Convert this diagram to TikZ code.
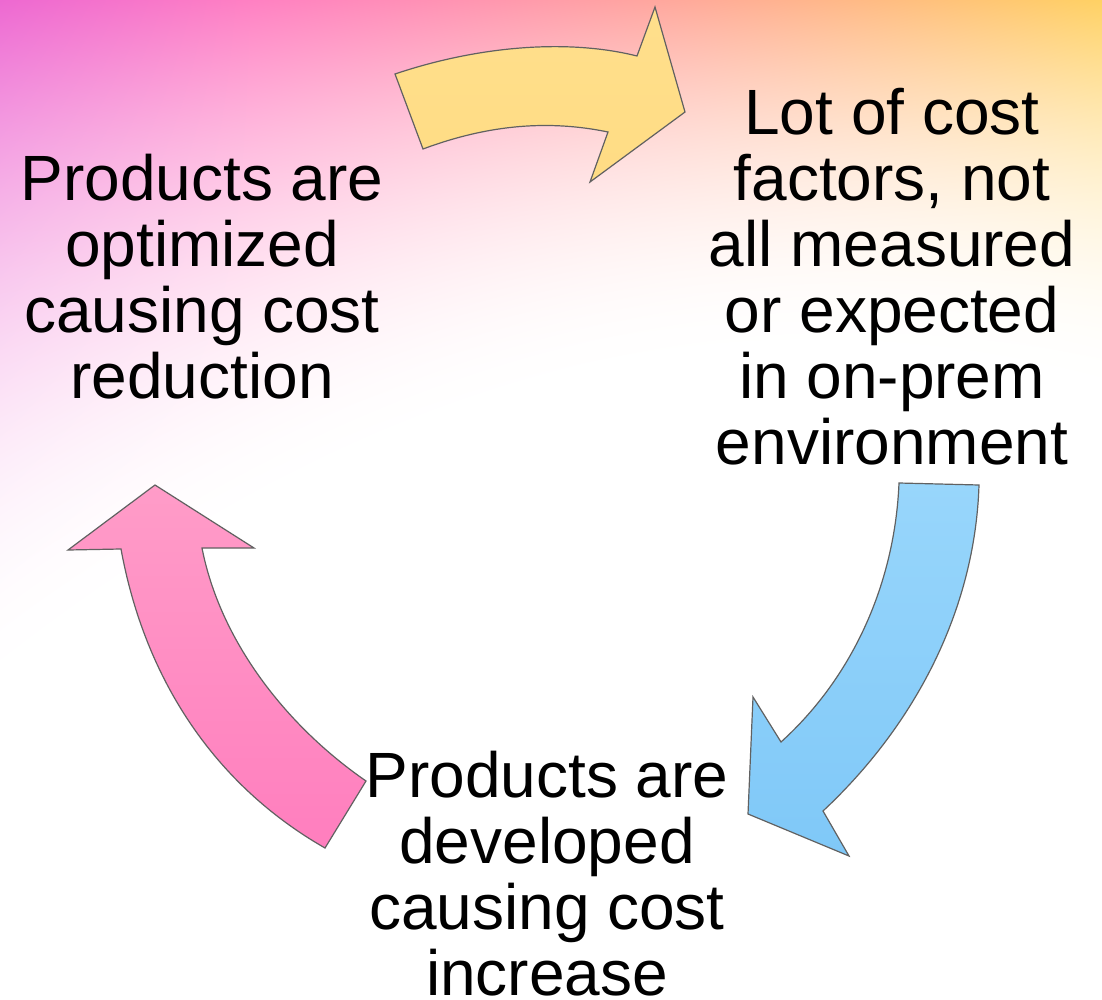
\documentclass[tikz,border=0pt]{standalone}
\usepackage{fontspec}
\setmainfont{Liberation Sans}
\definecolor{yellowA}{HTML}{FFDF8C}
\definecolor{yellowB}{HTML}{FFDC84}
\definecolor{blueA}{HTML}{98D6FB}
\definecolor{blueB}{HTML}{7FC8F8}
\definecolor{pinkA}{HTML}{FF9CC8}
\definecolor{pinkB}{HTML}{FF7EBE}
\pgfdeclarefunctionalshading{skyglow}{\pgfpoint{0bp}{0bp}}{\pgfpoint{100bp}{100bp}}{}{
  75 exch sub 50 div exch 25 sub 50 div
  dup dup mul 0.6 mul 1 index 0.9 mul sub 0.7 add
  2 index exch div 1 exch sub dup 0 lt {pop 0} if dup mul
  3 -1 roll pop
  1 index 0.3 mul 0.07 exch sub dup 0 lt {pop 0} if 1 index mul 1 exch sub
  2 index 0.41 mul 0.59 exch sub 2 index mul 1 exch sub
  3 index dup dup mul 0.23 mul exch 0.2 mul add 0.18 add 3 index mul 1 exch sub
  5 -2 roll pop pop
}
\tikzset{
  bend arrow/.style={draw=black!62, line width=1.2pt, line join=miter},
  cycle text/.style={align=center, font=\fontsize{64}{66}\selectfont, text=black, inner sep=0pt, anchor=base},
}
\begin{document}
\begin{tikzpicture}[x=1pt,y=-1pt]
\useasboundingbox (0,0) rectangle (1102,1000);
\path[shading=skyglow] (0,0) rectangle (1102,1000);
% yellow arrow
\path[bend arrow, top color=yellowA, bottom color=yellowB]
  (395,74) .. controls (475,47) and (565,38) .. (637,56)
  -- (655,7) -- (685,112) -- (590,182) -- (608,132)
  .. controls (550,120) and (490,124) .. (423,149) -- cycle;
% blue arrow
\path[bend arrow, top color=blueA, bottom color=blueB]
  (899,483) -- (979,485)
  .. controls (975,610) and (915,725) .. (823,811)
  -- (849,856) -- (748,814) -- (753,697) -- (781,742)
  .. controls (855,675) and (895,580) .. (899,483) -- cycle;
% pink arrow
\path[bend arrow, top color=pinkA, bottom color=pinkB]
  (155,485) -- (254,548) -- (202,548)
  .. controls (220,640) and (285,725) .. (366,781)
  -- (325,848)
  .. controls (215,785) and (145,680) .. (121,549)
  -- (68,550) -- cycle;
% labels
\node[cycle text] (optimized) at (202,398) {Products are\\optimized\\causing cost\\reduction};
\node[cycle text] (factors) at (892,464) {Lot of cost\\factors, not\\all measured\\or expected\\in on-prem\\environment};
\node[cycle text] (developed) at (547,995) {Products are\\developed\\causing cost\\increase};
\end{tikzpicture}
\end{document}
